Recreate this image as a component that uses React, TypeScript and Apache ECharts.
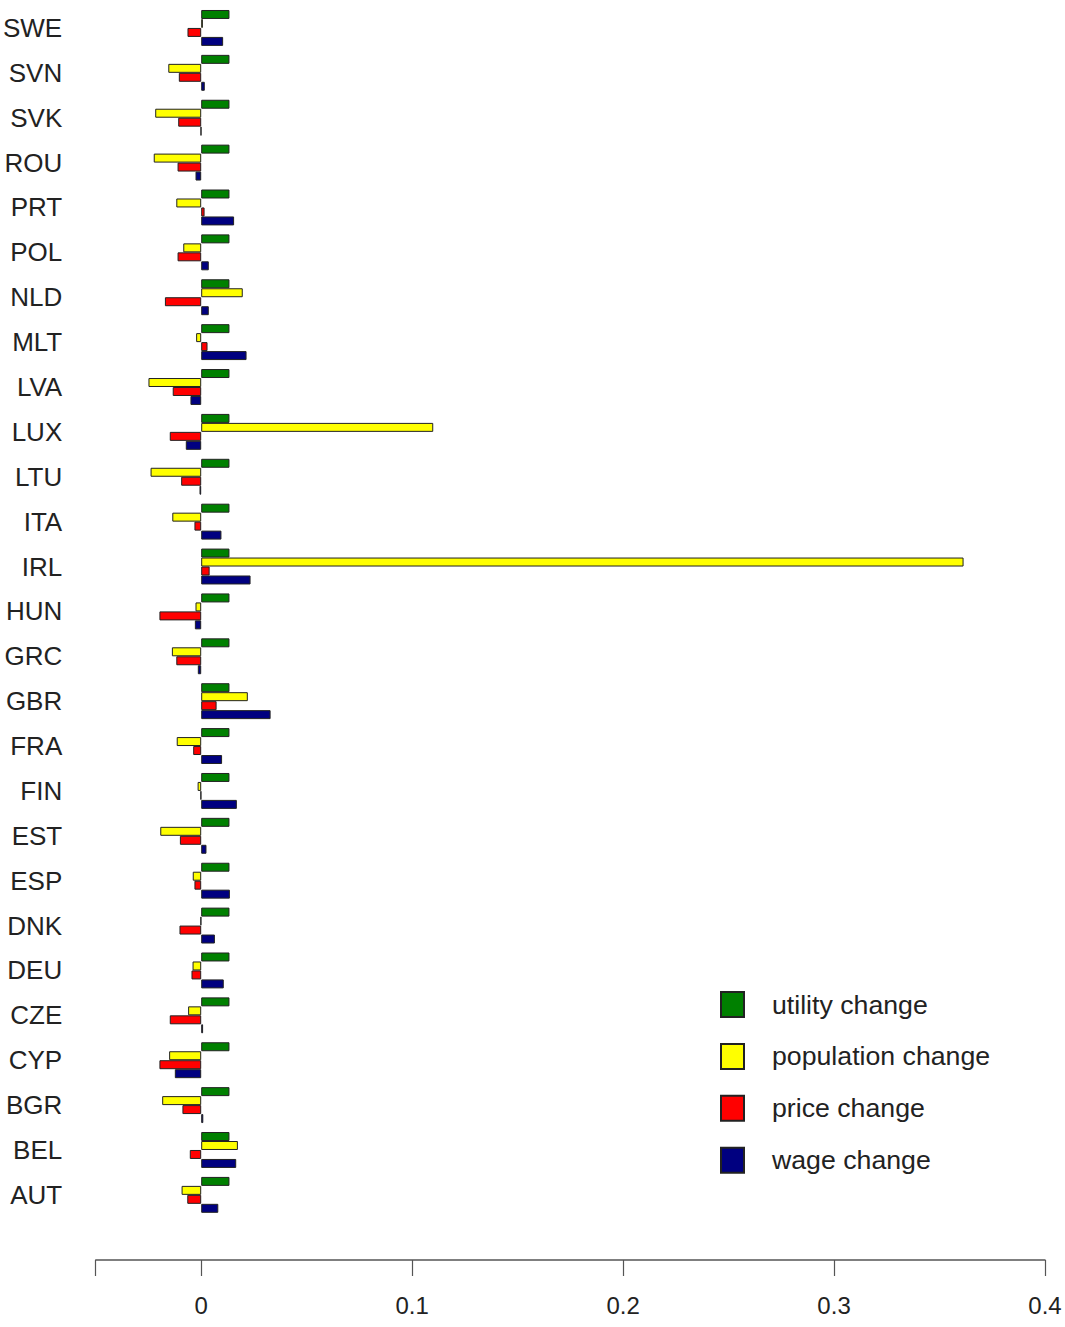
import React, { useEffect, useRef } from "react";
import * as echarts from "echarts";

const countries = ["SWE","SVN","SVK","ROU","PRT","POL","NLD","MLT","LVA","LUX","LTU","ITA","IRL","HUN","GRC","GBR","FRA","FIN","EST","ESP","DNK","DEU","CZE","CYP","BGR","BEL","AUT"];

const utilityChange = [0.0134,0.0134,0.0134,0.0134,0.0134,0.0134,0.0134,0.0134,0.0134,0.0134,0.0134,0.0134,0.0134,0.0134,0.0134,0.0134,0.0134,0.0134,0.0134,0.0134,0.0134,0.0134,0.0134,0.0134,0.0134,0.0134,0.0134];
const populationChange = [0.0008,-0.0156,-0.0218,-0.0225,-0.0118,-0.0085,0.0197,-0.0024,-0.025,0.110,-0.024,-0.0137,0.3614,-0.0027,-0.0139,0.0221,-0.0116,-0.0017,-0.0194,-0.004,-0.0003,-0.0041,-0.0062,-0.0152,-0.0185,0.0174,-0.0093];
const priceChange = [-0.0065,-0.0106,-0.0109,-0.0112,0.0016,-0.0112,-0.0172,0.003,-0.0135,-0.0149,-0.0095,-0.0032,0.004,-0.0198,-0.0118,0.0073,-0.0038,-0.0003,-0.0101,-0.0032,-0.0103,-0.0046,-0.0149,-0.0198,-0.0089,-0.0054,-0.0066];
const wageChange = [0.0104,0.0017,-0.0002,-0.0027,0.0156,0.0036,0.0036,0.0215,-0.0051,-0.0073,-0.0008,0.0096,0.0234,-0.003,-0.0016,0.0329,0.0099,0.0169,0.0025,0.0136,0.0065,0.0107,0.0009,-0.0125,0.001,0.0166,0.0081];

const seriesNames = ["utility change","population change","price change","wage change"];
const seriesColors = ["#008000","#ffff00","#ff0000","#000080"];
const tickValues = [-0.05,0,0.1,0.2,0.3,0.4];
const labelValues = [0,0.1,0.2,0.3,0.4];

export default function App() {
  const ref = useRef<HTMLDivElement>(null);
  useEffect(() => {
    if (!ref.current) return;
    const chart = echarts.init(ref.current, null, { renderer: "svg" });
    const datasets = [utilityChange, populationChange, priceChange, wageChange];
    const font = "'Liberation Sans', Arial, Helvetica, sans-serif";
    chart.setOption({
      animation: false,
      backgroundColor: "#ffffff",
      grid: { left: 95.5, right: 20, top: 5.5, bottom: 109.7, containLabel: false },
      legend: {
        orient: "vertical",
        left: 720,
        top: 991,
        padding: 0,
        itemWidth: 23,
        itemHeight: 25,
        itemGap: 24.9,
        icon: "rect",
        selectedMode: false,
        textStyle: { fontFamily: font, fontSize: 26.7, color: "#222", padding: [0, 0, 0, 23] },
        data: seriesNames,
      },
      xAxis: {
        type: "value",
        min: -0.05,
        max: 0.4,
        position: "bottom",
        offset: 42.7,
        splitLine: { show: false },
        axisLine: { show: true, lineStyle: { color: "#555", width: 1.5 } },
        axisTick: { show: true, length: 16, customValues: tickValues, lineStyle: { color: "#555", width: 1.2 } },
        axisLabel: {
          customValues: labelValues,
          margin: 33.5,
          fontFamily: font,
          fontSize: 24,
          color: "#222",
          formatter: (v: number) => String(v),
        },
      },
      yAxis: {
        type: "category",
        inverse: true,
        data: countries,
        axisLine: { show: false },
        axisTick: { show: false },
        axisLabel: { margin: 33.5, fontFamily: font, fontSize: 26, color: "#222" },
      },
      series: datasets.map((d, i) => ({
        name: seriesNames[i],
        type: "bar",
        data: d,
        barGap: "0%",
        barCategoryGap: "20%",
        itemStyle: { color: seriesColors[i], borderColor: "#222", borderWidth: 1 },
      })),
    });
    return () => chart.dispose();
  }, []);
  return (
    <div style={{ position: "fixed", left: 0, top: 0, width: 1065, height: 1327, background: "#fff" }}>
      <div ref={ref} style={{ width: 1065, height: 1327 }} />
    </div>
  );
}
